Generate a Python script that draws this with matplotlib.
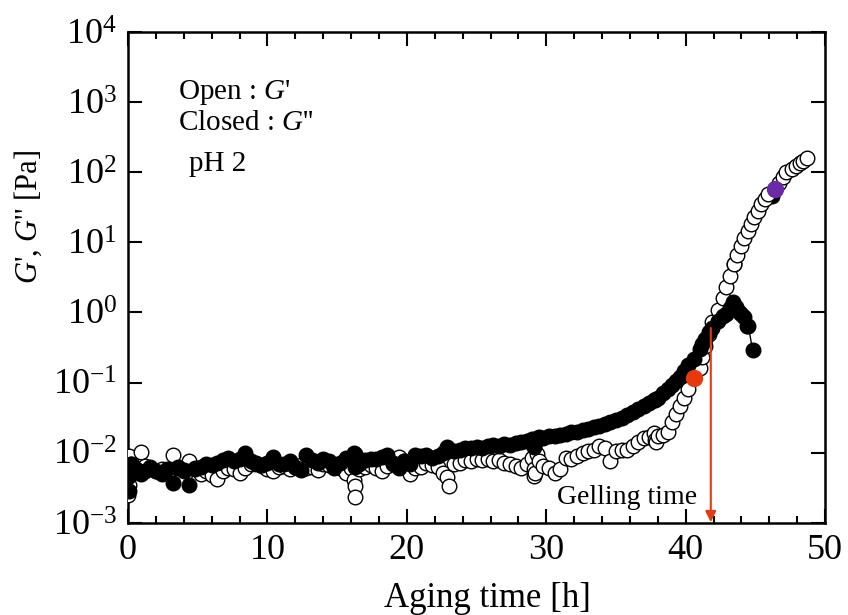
import numpy as np
import matplotlib
matplotlib.use("Agg")
import matplotlib.pyplot as plt

plt.rcParams["font.family"] = ["Liberation Serif", "DejaVu Serif"]
plt.rcParams["mathtext.fontset"] = "custom"
plt.rcParams["mathtext.rm"] = "Liberation Serif"
plt.rcParams["mathtext.it"] = "Liberation Serif:italic"

# aging time [h] of each measurement
t_open = [0.0, 0.05, 0.1, 0.2, 0.3, 0.6, 0.9, 1.2, 1.6, 2.0, 2.4, 2.8, 3.2, 3.6, 4.0, 4.4,
          4.8, 5.2, 5.6, 6.0, 6.4, 6.8, 7.2, 7.6, 8.0, 8.4, 8.8, 9.2, 9.6, 10.0, 10.4, 10.8,
          11.2, 11.6, 12.0, 12.4, 12.8, 13.2, 13.6, 14.0, 14.4, 14.8, 15.2, 15.6, 16.0, 16.2,
          16.25, 16.3, 16.6, 17.0, 17.4, 17.8, 18.2, 18.6, 19.0, 19.4, 19.8, 20.2, 20.6, 21.0,
          21.4, 21.8, 22.2, 22.6, 22.9, 23.0, 23.4, 23.8, 24.2, 24.6, 25.0, 25.4, 25.8, 26.2,
          26.6, 27.0, 27.4, 27.8, 28.2, 28.6, 29.0, 29.1, 29.15, 29.2, 29.3, 29.5, 29.8, 30.2,
          30.6, 31.0, 31.4, 31.8, 32.2, 32.6, 33.0, 33.4, 33.8, 34.2, 34.6, 35.0, 35.4, 35.8,
          36.2, 36.6, 37.0, 37.4, 37.7, 37.8, 37.9, 38.0, 38.4, 38.7, 39.0, 39.3, 39.6, 39.9,
          40.2, 40.6, 41.0, 41.2, 41.4, 41.7, 41.9, 42.3, 42.7, 42.9, 43.2, 43.5, 43.7, 44.0,
          44.2, 44.5, 44.7, 44.9, 45.2, 45.4, 45.7, 45.9, 46.4, 46.7, 47.0, 47.2, 47.6, 47.9,
          48.2, 48.4, 48.7]

# storage modulus G' [Pa]
g_open = [0.0025, 0.0035, 0.0090, 0.0070, 0.0055, 0.0060, 0.0103, 0.0065, 0.0060, 0.0055,
          0.0058, 0.0052, 0.0094, 0.0060, 0.0055, 0.0075, 0.0060, 0.0050, 0.0055, 0.0048,
          0.0042, 0.0055, 0.0060, 0.0058, 0.0052, 0.0060, 0.0068, 0.0072, 0.0065, 0.0058,
          0.0054, 0.0062, 0.0065, 0.0058, 0.0062, 0.0066, 0.0060, 0.0063, 0.0057, 0.0070,
          0.0066, 0.0062, 0.0060, 0.0052, 0.0060, 0.0041, 0.0033, 0.0023, 0.0058, 0.0062,
          0.0067, 0.0060, 0.0054, 0.0065, 0.0070, 0.0088, 0.0075, 0.0049, 0.0060, 0.0063,
          0.0072, 0.0067, 0.0062, 0.0052, 0.0045, 0.0033, 0.0068, 0.0072, 0.0078, 0.0075,
          0.0080, 0.0078, 0.0082, 0.0075, 0.0078, 0.0072, 0.0068, 0.0065, 0.0060, 0.0070,
          0.0085, 0.0058, 0.0047, 0.0052, 0.0095, 0.0075, 0.0065, 0.0060, 0.0052, 0.0058,
          0.0085, 0.0080, 0.0090, 0.0100, 0.0105, 0.0110, 0.0125, 0.0115, 0.0075, 0.0105,
          0.0110, 0.0110, 0.0125, 0.0140, 0.0160, 0.0165, 0.0190, 0.0150, 0.0140, 0.0170,
          0.0180, 0.0200, 0.0270, 0.0350, 0.0460, 0.0610, 0.0800, 0.115, 0.16, 0.23,
          0.33, 0.49, 0.74, 1.1, 1.6, 2.3, 3.3, 4.9, 6.7, 8.8,
          11.7, 14.4, 18.0, 23.0, 28.0, 35.0, 41.0, 49.0, 58.0, 70.0,
          85.0, 100.0, 110.0, 123.0, 135.0, 145.0, 158.0]

t_closed = [0.0, 0.05, 0.1, 0.2, 0.3, 0.6, 0.9, 1.2, 1.6, 2.0, 2.4, 2.8, 3.2, 3.6, 4.0, 4.4,
            4.8, 5.2, 5.6, 6.0, 6.4, 6.8, 7.2, 7.6, 8.0, 8.4, 8.8, 9.2, 9.6, 10.0, 10.4, 10.8,
            11.2, 11.6, 12.0, 12.4, 12.8, 13.2, 13.6, 14.0, 14.4, 14.8, 15.2, 15.6, 16.0, 16.2,
            16.25, 16.3, 16.6, 17.0, 17.4, 17.8, 18.2, 18.6, 19.0, 19.4, 19.8, 20.2, 20.6, 21.0,
            21.4, 21.8, 22.2, 22.6, 22.9, 23.0, 23.4, 23.8, 24.2, 24.6, 25.0, 25.4, 25.8, 26.2,
            26.6, 27.0, 27.4, 27.8, 28.2, 28.6, 29.0, 29.1, 29.15, 29.2, 29.3, 29.5, 29.8, 30.2,
            30.6, 31.0, 31.4, 31.8, 32.2, 32.6, 33.0, 33.4, 33.8, 34.2, 34.6, 35.0, 35.4, 35.8,
            36.2, 36.6, 37.0, 37.4, 37.7, 37.8, 37.9, 38.0, 38.4, 38.7, 39.0, 39.3, 39.6, 39.9,
            40.2, 40.6, 41.0, 41.2, 41.4, 41.7, 41.9, 42.3, 42.7, 42.9, 43.2, 43.4, 43.6, 43.8,
            44.0, 44.2, 44.4, 44.5, 44.8]

# loss modulus G'' [Pa]
g_closed = [0.0045, 0.0060, 0.0028, 0.0070, 0.0052, 0.0058, 0.0050, 0.0055, 0.0062, 0.0054,
            0.0050, 0.0058, 0.0037, 0.0062, 0.0056, 0.0035, 0.0058, 0.0062, 0.0070, 0.0066,
            0.0072, 0.0078, 0.0085, 0.0075, 0.0080, 0.0100, 0.0075, 0.0068, 0.0066, 0.0072,
            0.0088, 0.0070, 0.0068, 0.0075, 0.0062, 0.0057, 0.0094, 0.0078, 0.0072, 0.0080,
            0.0075, 0.0060, 0.0072, 0.0085, 0.0080, 0.0100, 0.0062, 0.0095, 0.0070, 0.0078,
            0.0082, 0.0080, 0.0088, 0.0094, 0.0072, 0.0061, 0.0075, 0.0070, 0.0094, 0.0090,
            0.0094, 0.0085, 0.0090, 0.0100, 0.0120, 0.0110, 0.0105, 0.0110, 0.0115, 0.0118,
            0.0120, 0.0115, 0.0125, 0.0128, 0.0125, 0.0135, 0.0130, 0.0138, 0.0140, 0.0145,
            0.0155, 0.0130, 0.0120, 0.0140, 0.0160, 0.0165, 0.0160, 0.0170, 0.0175, 0.0180,
            0.0185, 0.0195, 0.0200, 0.0210, 0.0220, 0.0230, 0.0240, 0.0255, 0.0270, 0.0290,
            0.0310, 0.0340, 0.0380, 0.0420, 0.0460, 0.0510, 0.0560, 0.0570, 0.0590, 0.0610,
            0.0700, 0.0800, 0.0920, 0.1050, 0.1200, 0.1450, 0.1750, 0.2200, 0.3000, 0.3500,
            0.4200, 0.5200, 0.6000, 0.7500, 0.8800, 0.9500, 1.15, 1.40, 1.20, 1.00,
            0.95, 0.85, 0.65, 0.63, 0.29]

# G'' points lying under the G' branch
t_closed_hidden = [43.5, 46.2]
g_closed_hidden = [4.9, 46.0]

# highlighted points
t_red, g_red = 40.6, 0.115
t_purple, g_purple = 46.4, 58.0

t_gel = 41.8

fig = plt.figure(figsize=(8.48, 6.15), dpi=100)
ax = fig.add_axes([0.151, 0.150, 0.822, 0.798])

ms = 10.5
ax.plot(t_open, g_open, "-o", color="black", lw=1.0, ms=ms, mfc="white",
        mec="black", mew=1.0, zorder=3)
ax.plot(t_closed, g_closed, "-o", color="black", lw=1.0, ms=ms, mfc="black",
        mec="black", mew=1.0, zorder=4)
ax.plot(t_closed_hidden, g_closed_hidden, "o", ms=ms, mfc="black", mec="black", zorder=2)
ax.plot(t_red, g_red, "o", ms=ms + 1, color="#e8390e", mec="#e8390e", zorder=6)
ax.plot(t_purple, g_purple, "o", ms=ms + 1, color="#6a2aa8", mec="#6a2aa8", zorder=6)

ax.annotate("", xy=(t_gel, 1.02e-3), xytext=(t_gel, 0.6),
            arrowprops=dict(arrowstyle="-|>", color="#e8390e", lw=1.5,
                            mutation_scale=16, shrinkA=0, shrinkB=0), zorder=5)
ax.text(35.8, 2.3e-3, "Gelling time", fontsize=20, ha="center", va="center")

ax.text(3.6, 1.35e3, "Open : $G$'", fontsize=21, ha="left", va="center")
ax.text(3.6, 5.0e2, "Closed : $G$''", fontsize=21, ha="left", va="center")
ax.text(4.4, 1.3e2, "pH 2", fontsize=21, ha="left", va="center")

ax.set_yscale("log")
ax.set_xlim(0, 50)
ax.set_ylim(1e-3, 1e4)
ax.set_xticks([0, 10, 20, 30, 40, 50])
ax.set_xticks(np.arange(0, 51, 2), minor=True)
ax.set_yticks([1e-3, 1e-2, 1e-1, 1e0, 1e1, 1e2, 1e3, 1e4])
ax.set_yticklabels([f"$10^{{{e}}}$" for e in range(-3, 5)])
ax.yaxis.set_minor_locator(matplotlib.ticker.NullLocator())

ax.tick_params(which="both", direction="in", top=True, right=True, width=1.5,
               labelsize=26, pad=8)
ax.tick_params(which="major", length=10)
ax.tick_params(which="minor", length=5)
for s in ax.spines.values():
    s.set_linewidth(1.8)

ax.set_xlabel("Aging time [h]", fontsize=25)
ax.xaxis.set_label_coords(0.515, -0.12)
fig.text(28 / 848, 1 - 217 / 615, "$G$', $G$'' [Pa]", fontsize=22, rotation=90,
         ha="center", va="center")

fig.savefig("out.png", dpi=100)
